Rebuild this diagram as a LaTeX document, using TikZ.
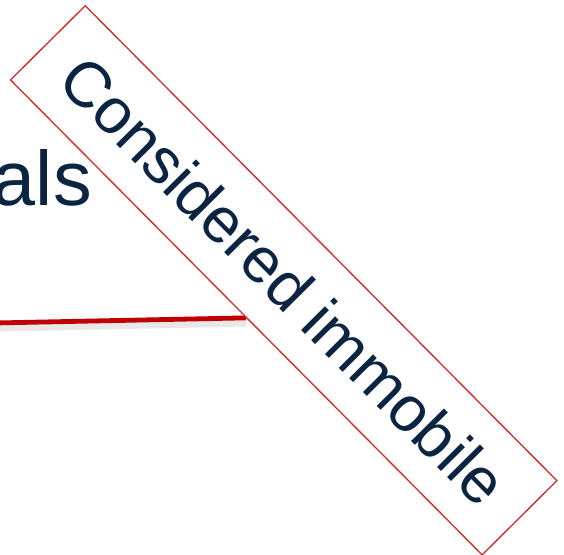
\documentclass[tikz,border=0pt]{standalone}
\usepackage{fontspec}
\setmainfont{Liberation Sans}
\usetikzlibrary{positioning,backgrounds}
\definecolor{imNavy}{RGB}{10,36,66}
\definecolor{imRed}{RGB}{192,0,0}
\definecolor{imEdge}{RGB}{212,42,42}

\begin{document}
\begin{tikzpicture}[
  x=0.75pt, y=-0.75pt,
  lbl/.style={text=imNavy, font=\fontsize{48}{58}\selectfont, inner sep=0pt},
  tag/.style={lbl, draw=imEdge, line width=1pt, fill=white,
              minimum width=502pt, minimum height=79pt, rotate=-45.2},
  lead/.style={draw=imRed, line width=3.6pt},
  shade/.style={draw=black, opacity=0.09, line width=6pt}
]
\useasboundingbox (0,0) rectangle (564,555);
\clip (0,0) rectangle (564,555);

\node[lbl, font=\fontsize{58}{66}\selectfont, anchor=base east] (word) at (92,206) {als};
\node[tag] (imm) at (283.7,280.3) {Considered immobile};
\coordinate (lstart) at (-5,323);

\begin{scope}[on background layer]
  \draw[shade] ([yshift=-3.5pt]lstart) -- ([yshift=-3.5pt]imm.south);
  \draw[lead] (lstart) -- (imm.south);
\end{scope}

\end{tikzpicture}
\end{document}
